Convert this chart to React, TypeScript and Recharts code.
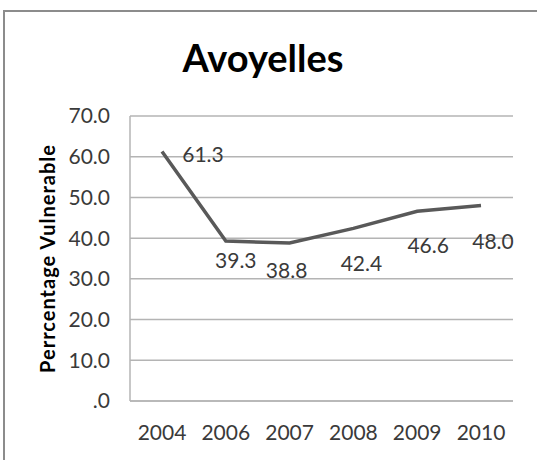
import { CartesianGrid, Line, LineChart, XAxis, YAxis } from "recharts";

const YEARS = ["2004", "2006", "2007", "2008", "2009", "2010"];
const VULNERABLE = [61.3, 39.3, 38.8, 42.4, 46.6, 48.0];
const Y_TICKS = [0, 10, 20, 30, 40, 50, 60, 70];
// where Excel put each data label, relative to its point
const LABEL_OFFSETS: [number, number][] = [
  [41, 2], [10, 19], [-3, 26], [8, 34], [11, 33], [12, 35],
];

const FONT = "Lato, 'Open Sans', sans-serif";
const TEXT = "#3a3a3a";
const GRID = "#b4b4b4";

const data = YEARS.map((year, i) => ({ year, value: VULNERABLE[i] }));

function DataLabel(props: any) {
  const { x, y, index, value } = props;
  const [dx, dy] = LABEL_OFFSETS[index] ?? [0, -14];
  return (
    <text
      x={x + dx}
      y={y + dy}
      textAnchor="middle"
      dominantBaseline="central"
      fill={TEXT}
      fontFamily={FONT}
      fontSize={21}
    >
      {Number(value).toFixed(1)}
    </text>
  );
}

function YTitle(props: any) {
  const { viewBox } = props;
  const cx = viewBox.x + 47;
  const cy = viewBox.y + viewBox.height / 2;
  return (
    <text
      x={cx}
      y={cy}
      transform={`rotate(-90, ${cx}, ${cy})`}
      textAnchor="middle"
      dominantBaseline="central"
      fontFamily={FONT}
      fontWeight={700}
      fontSize={20}
      letterSpacing={1}
      fill="#000"
    >
      Perrcentage Vulnerable
    </text>
  );
}

export default function App() {
  return (
    <div style={{ position: "absolute", left: 0, top: 0, width: 537, height: 460, overflow: "hidden", background: "#fff" }}>
      <div
        style={{
          position: "absolute", left: 3, top: 10, width: 560, height: 480,
          borderLeft: "2px solid #8c8c8c", borderTop: "2px solid #8c8c8c",
        }}
      />
      <LineChart width={537} height={460} data={data} margin={{ top: 116, right: 24, bottom: 19, left: 0 }}>
        <CartesianGrid vertical={false} stroke={GRID} strokeWidth={1.5} />
        <XAxis
          dataKey="year"
          height={40}
          padding={{ left: 32, right: 32 }}
          tickLine={false}
          tickSize={0}
          tickMargin={24}
          axisLine={{ stroke: GRID, strokeWidth: 1.5 }}
          tick={{ fill: TEXT, fontSize: 21, fontFamily: FONT }}
        />
        <YAxis
          width={130}
          domain={[0, 70]}
          ticks={Y_TICKS}
          interval={0}
          tickLine={false}
          tickSize={0}
          tickMargin={20}
          axisLine={{ stroke: GRID, strokeWidth: 1.5 }}
          tick={{ fill: TEXT, fontSize: 21, fontFamily: FONT }}
          tickFormatter={(v: number) => (v === 0 ? ".0" : v.toFixed(1))}
          label={{ content: YTitle }}
        />
        <Line
          type="linear"
          dataKey="value"
          stroke="#595959"
          strokeWidth={3.5}
          dot={false}
          activeDot={false}
          label={DataLabel}
          isAnimationActive={false}
        />
      </LineChart>
      <svg width={537} height={100} style={{ position: "absolute", left: 0, top: 0, pointerEvents: "none" }}>
        <text x={263} y={72} textAnchor="middle" fontFamily={FONT} fontWeight={700} fontSize={38} fill="#000">
          Avoyelles
        </text>
      </svg>
    </div>
  );
}
